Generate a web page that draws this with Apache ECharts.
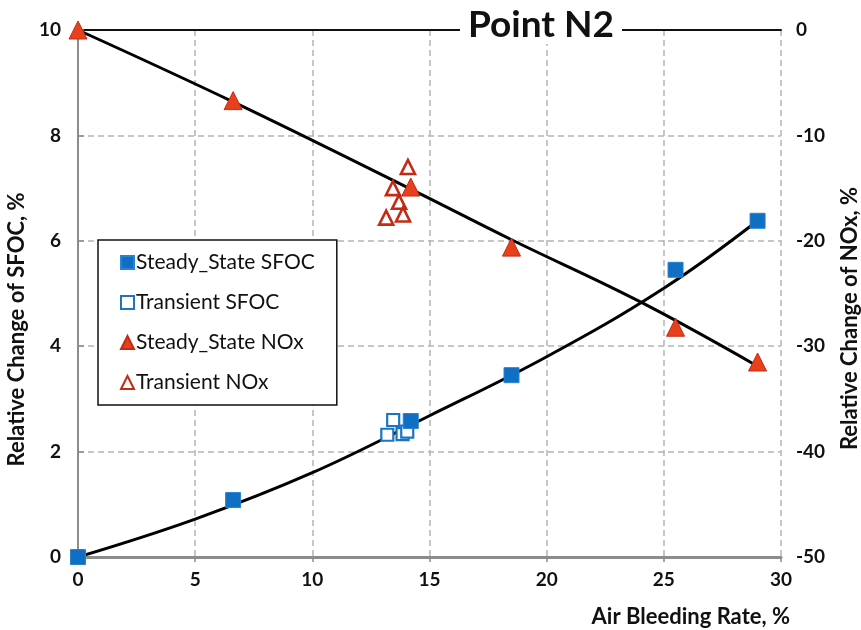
<!DOCTYPE html>
<html>
<head>
<meta charset="utf-8">
<script src="https://cdn.jsdelivr.net/npm/echarts@6/dist/echarts.min.js"></script>
<style>
  html, body { margin: 0; padding: 0; background: #fff; }
  #chart { width: 861px; height: 630px; }
</style>
</head>
<body>
<div id="chart"></div>
<script>
// Air bleeding rate, %
const steadyX = [0, 6.62, 14.2, 18.5, 25.5, 29.0];
const steadySfoc = [0, 1.08, 2.58, 3.45, 5.45, 6.38];
const steadyNox = [0, -6.7, -14.9, -20.6, -28.2, -31.5];

const transSfocX = [13.45, 13.2, 13.85, 14.05];
const transSfoc = [2.60, 2.32, 2.33, 2.38];

const transNoxX = [14.08, 13.44, 13.70, 13.87, 13.15];
const transNox = [-13.0, -15.0, -16.3, -17.5, -17.8];

// Trend curves
const sfocTrendX = [0, 5, 10, 15, 20, 25, 29.0];
const sfocTrend = [0, 0.72, 1.6, 2.68, 3.8, 5.1, 6.38];
const noxTrendX = [0, 6.6, 14.2, 18.5, 24.0, 29.0];
const noxTrend = [0, -6.8, -15.1, -19.9, -25.8, -31.9];

const xTicks = [0, 5, 10, 15, 20, 25, 30];
const sfocTicks = [0, 2, 4, 6, 8, 10];
const noxTicks = [-50, -40, -30, -20, -10, 0];

const FONT = 'Lato';
const zip = (xs, ys) => xs.map((x, i) => [x, ys[i]]);

const BLUE = '#0f6fc3';
const RED = '#e8401c';
const RED_EDGE = '#c42a14';

const chart = echarts.init(document.getElementById('chart'), null, { renderer: 'canvas' });

const tickLabel = { color: '#111', fontFamily: FONT, fontWeight: 'bold', fontSize: 19 };
const dashed = { show: true, lineStyle: { color: '#b4b4b4', type: [6, 4], width: 1.5 } };
const nameStyle = { fontFamily: FONT, fontWeight: 'bold', fontSize: 22, color: '#111' };

chart.setOption({
  animation: false,
  backgroundColor: '#fff',
  title: {
    text: 'Point N2',
    top: 7,
    left: 460,
    backgroundColor: '#fff',
    padding: [0, 8, 0, 8],
    textStyle: { fontFamily: FONT, fontWeight: 'bold', fontSize: 37, color: '#111' }
  },
  grid: { left: 78, right: 80, top: 30, bottom: 73, containLabel: false, outerBoundsMode: 'none' },
  legend: {
    orient: 'vertical',
    left: 98,
    top: 240,
    padding: [12, 22, 12, 22],
    itemGap: 19,
    itemWidth: 13,
    itemHeight: 13,
    borderColor: '#111',
    borderWidth: 1.5,
    backgroundColor: '#fff',
    textStyle: { fontFamily: FONT, fontSize: 21, color: '#111', padding: [0, 0, 0, -3] },
    data: ['Steady_State SFOC', 'Transient SFOC', 'Steady_State NOx', 'Transient NOx']
  },
  xAxis: [
    {
      type: 'value', min: 0, max: 30, interval: 5,
      axisLine: { show: true, lineStyle: { color: '#8c8c8c', width: 3 } },
      axisTick: { show: true, length: 5, lineStyle: { color: '#8c8c8c', width: 1.5 } },
      axisLabel: Object.assign({ margin: 13 }, tickLabel),
      splitLine: dashed,
      name: 'Air Bleeding Rate, %',
      nameLocation: 'end',
      nameGap: 9,
      nameTextStyle: Object.assign({ align: 'right', verticalAlign: 'top', padding: [49, 0, 0, 0] }, nameStyle)
    },
    {
      type: 'value', min: 0, max: 30, position: 'top',
      axisLine: { show: true, onZero: false, lineStyle: { color: '#111', width: 2 } },
      axisTick: { show: false }, axisLabel: { show: false }, splitLine: { show: false }
    }
  ],
  yAxis: [
    {
      type: 'value', min: 0, max: 10, interval: 2, position: 'left',
      axisLine: { show: true, lineStyle: { color: '#8c8c8c', width: 2 } },
      axisTick: { show: false },
      axisLabel: Object.assign({ margin: 17 }, tickLabel),
      splitLine: dashed,
      name: 'Relative Change of SFOC, %',
      nameLocation: 'middle',
      nameRotate: 90,
      nameGap: 43,
      nameTextStyle: Object.assign({ padding: [0, 72, 0, 0] }, nameStyle)
    },
    {
      type: 'value', min: -50, max: 0, interval: 10, position: 'right',
      axisLine: { show: true, lineStyle: { color: '#8c8c8c', width: 2 } },
      axisTick: { show: true, length: 6, lineStyle: { color: '#8c8c8c', width: 1.5 } },
      axisLabel: Object.assign({ margin: 15 }, tickLabel),
      splitLine: { show: false },
      name: 'Relative Change of NOx, %',
      nameLocation: 'middle',
      nameRotate: 90,
      nameGap: 58,
      nameTextStyle: Object.assign({ padding: [0, 50, 0, 0] }, nameStyle)
    }
  ],
  series: [
    {
      name: 'SFOC trend', type: 'line', yAxisIndex: 0, data: zip(sfocTrendX, sfocTrend),
      smooth: 0.4, showSymbol: false, symbol: 'none', silent: true, z: 2,
      lineStyle: { color: '#000', width: 3 }
    },
    {
      name: 'NOx trend', type: 'line', yAxisIndex: 1, data: zip(noxTrendX, noxTrend),
      smooth: 0.4, showSymbol: false, symbol: 'none', silent: true, z: 2,
      lineStyle: { color: '#000', width: 3 }
    },
    {
      name: 'Transient SFOC', type: 'scatter', yAxisIndex: 0, data: zip(transSfocX, transSfoc),
      symbol: 'rect', symbolSize: 12, z: 3,
      itemStyle: { color: '#fff', borderColor: '#1b74c6', borderWidth: 2.2, opacity: 1 }
    },
    {
      name: 'Steady_State SFOC', type: 'scatter', yAxisIndex: 0, data: zip(steadyX, steadySfoc),
      symbol: 'rect', symbolSize: 15, z: 4,
      itemStyle: { color: BLUE, borderColor: '#2a82d0', borderWidth: 1, opacity: 1 }
    },
    {
      name: 'Transient NOx', type: 'scatter', yAxisIndex: 1, data: zip(transNoxX, transNox),
      symbol: 'triangle', symbolSize: 14, z: 3,
      itemStyle: { color: '#fff', borderColor: RED_EDGE, borderWidth: 2.6, opacity: 1 }
    },
    {
      name: 'Steady_State NOx', type: 'scatter', yAxisIndex: 1, data: zip(steadyX, steadyNox),
      symbol: 'triangle', symbolSize: 18, z: 4,
      itemStyle: { color: RED, borderColor: RED_EDGE, borderWidth: 1, opacity: 1 }
    }
  ]
});
</script>
</body>
</html>
